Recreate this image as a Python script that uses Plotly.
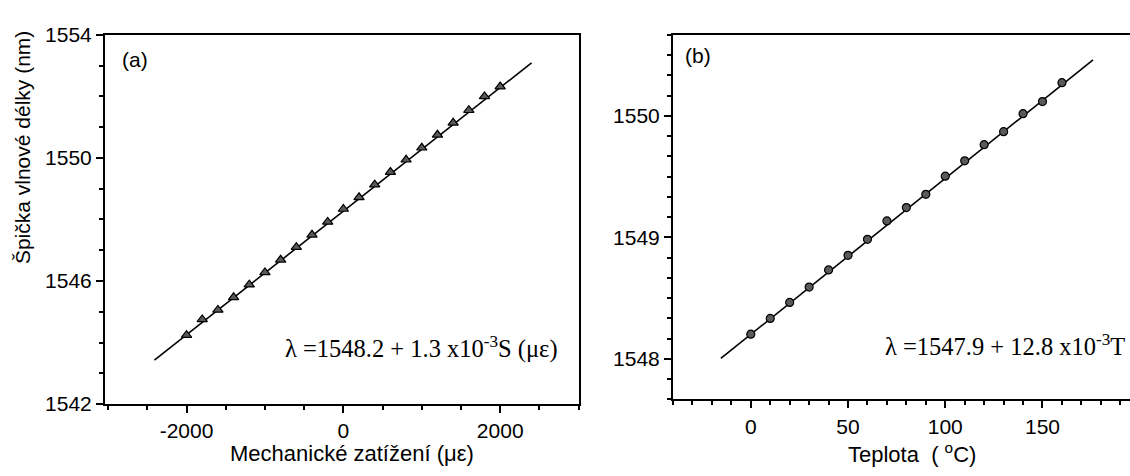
import plotly.graph_objects as go

# (a) Bragg peak wavelength vs. applied strain
strain_ue = [-2000, -1800, -1600, -1400, -1200, -1000, -800, -600, -400, -200, 0,
             200, 400, 600, 800, 1000, 1200, 1400, 1600, 1800, 2000]
peak_a_nm = [1544.24, 1544.75, 1545.06, 1545.47, 1545.88, 1546.28, 1546.69, 1547.10,
             1547.50, 1547.92, 1548.34, 1548.72, 1549.13, 1549.54, 1549.94, 1550.33,
             1550.75, 1551.14, 1551.55, 1552.00, 1552.32]
fit_a_x = [-2410, 2400]
fit_a_y = [1543.43, 1553.09]

# (b) Bragg peak wavelength vs. temperature
temp_c = [0, 10, 20, 30, 40, 50, 60, 70, 80, 90, 100, 110, 120, 130, 140, 150, 160]
peak_b_nm = [1548.203, 1548.333, 1548.464, 1548.591, 1548.732, 1548.852, 1548.984,
             1549.135, 1549.245, 1549.354, 1549.503, 1549.630, 1549.763, 1549.870,
             1550.018, 1550.117, 1550.273]
fit_b_x = [-15.4, 176.0]
fit_b_y = [1548.003, 1550.461]

x_ticks_a = [-2000, 0, 2000]
x_labels_a = ["-2000", "0", "2000"]
y_ticks_a = [1542, 1546, 1550, 1554]
x_ticks_b = [0, 50, 100, 150]
y_ticks_b = [1548, 1549, 1550]

W, H = 1130, 476
SANS = "Liberation Sans"
SERIF = "Liberation Serif"

fig = go.Figure()

fig.add_trace(go.Scatter(x=fit_a_x, y=fit_a_y, mode="lines",
                         line=dict(color="black", width=1.6),
                         xaxis="x", yaxis="y", showlegend=False))
fig.add_trace(go.Scatter(x=strain_ue, y=peak_a_nm, mode="markers",
                         marker=dict(symbol="triangle-up", size=9, color="#5a5a5a",
                                     line=dict(color="black", width=1.2)),
                         xaxis="x", yaxis="y", showlegend=False))
fig.add_trace(go.Scatter(x=fit_b_x, y=fit_b_y, mode="lines",
                         line=dict(color="black", width=1.6),
                         xaxis="x2", yaxis="y2", showlegend=False))
fig.add_trace(go.Scatter(x=temp_c, y=peak_b_nm, mode="markers",
                         marker=dict(symbol="circle", size=8, color="#5a5a5a",
                                     line=dict(color="black", width=1.2)),
                         xaxis="x2", yaxis="y2", showlegend=False))


def px_x(p):
    return p / W


def px_y(p):
    return 1 - p / H


axis_common = dict(showline=True, linecolor="black", linewidth=2, ticks="outside",
                   tickcolor="black", tickwidth=1.5, showgrid=False, zeroline=False,
                   tickfont=dict(family=SANS, size=21, color="black"))

fig.update_layout(
    width=W, height=H,
    margin=dict(l=0, r=0, t=0, b=0),
    paper_bgcolor="white", plot_bgcolor="white",
    xaxis=dict(domain=[px_x(105), px_x(579)], range=[-3040, 3005], anchor="y",
               tickvals=x_ticks_a, ticktext=x_labels_a, ticklen=7, mirror=True,
               minor=dict(dtick=500, tick0=0, ticklen=4, tickcolor="black", ticks="outside"),
               **axis_common),
    yaxis=dict(domain=[px_y(412), px_y(24)], range=[1542, 1554], anchor="x",
               tickvals=y_ticks_a, ticklen=7, mirror=True,
               minor=dict(dtick=1, tick0=1542, ticklen=4, tickcolor="black", ticks="outside"),
               **axis_common),
    xaxis2=dict(domain=[px_x(673), 1.0], range=[-40, 195], anchor="y2",
                tickvals=x_ticks_b, ticklen=7, mirror=True,
                minor=dict(dtick=10, tick0=0, ticklen=4, tickcolor="black", ticks="outside"),
                **axis_common),
    yaxis2=dict(domain=[px_y(407), px_y(24)], range=[1548 - 2 / 6, 1550 + 4 / 6], anchor="x2",
                tickvals=y_ticks_b, ticklen=7,
                minor=dict(dtick=1 / 6, tick0=1548, ticklen=4, tickcolor="black", ticks="outside"),
                **axis_common),
)

annotations = [
    dict(text="(a)", x=px_x(121), y=px_y(50), xanchor="left", yanchor="middle",
         font=dict(family=SANS, size=21, color="black")),
    dict(text="(b)", x=px_x(684), y=px_y(46), xanchor="left", yanchor="middle",
         font=dict(family=SANS, size=21, color="black")),
    dict(text="λ =1548.2 + 1.3 x10<sup>-3</sup>S (με)", x=px_x(284), y=px_y(353),
         xanchor="left", yanchor="middle",
         font=dict(family=SERIF, size=24.5, color="black")),
    dict(text="λ =1547.9 + 12.8 x10<sup>-3</sup>T", x=px_x(884), y=px_y(350),
         xanchor="left", yanchor="middle",
         font=dict(family=SERIF, size=24.5, color="black")),
    dict(text="Mechanické zatížení (με)", x=px_x(352), y=px_y(464),
         xanchor="center", yanchor="middle",
         font=dict(family=SANS, size=22, color="black")),
    dict(text="Teplota  ( <sup>o</sup>C)", x=px_x(912), y=px_y(463),
         xanchor="center", yanchor="middle",
         font=dict(family=SANS, size=22, color="black")),
    dict(text="Špička vlnové délky (nm)", x=px_x(22), y=px_y(143), textangle=-90,
         xanchor="center", yanchor="middle",
         font=dict(family=SANS, size=21, color="black")),
]
for a in annotations:
    a.update(xref="paper", yref="paper", showarrow=False, borderpad=0)
fig.update_layout(annotations=annotations)

fig.write_html("out.html")
